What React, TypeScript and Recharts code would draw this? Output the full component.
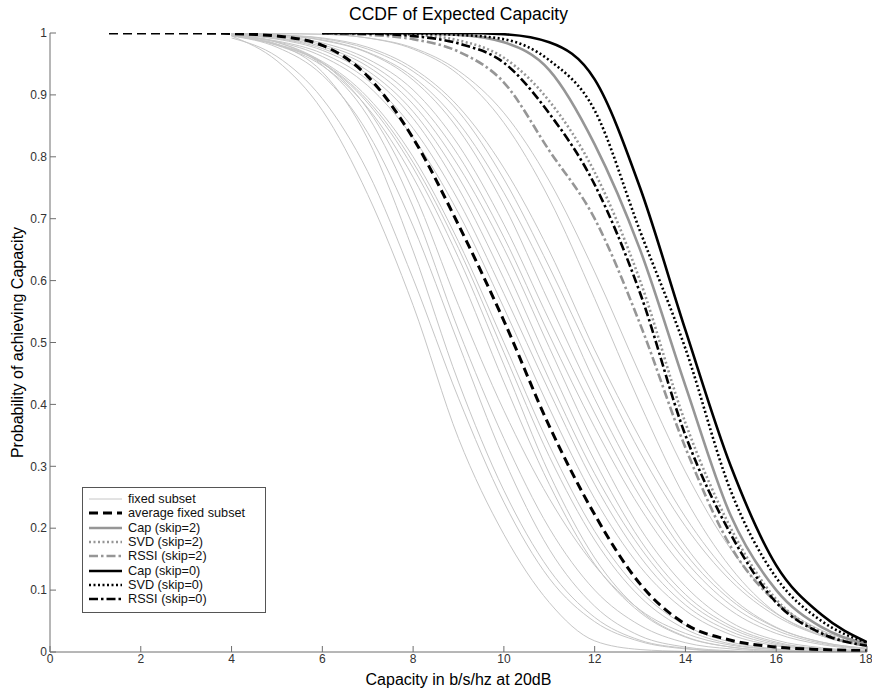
import { LineChart, Line, XAxis, YAxis, Label } from "recharts";

const FONT = "'Liberation Sans', Arial, Helvetica, sans-serif";

// shared x grid (capacity in b/s/hz)
const X_VALUES = [1.3, 2, 3, 4, 5, 6, 7, 8, 9, 10, 11, 12, 13, 14, 15, 16, 17, 18];
const X_TICKS = [0, 2, 4, 6, 8, 10, 12, 14, 16, 18];
const Y_TICKS = [0, 0.1, 0.2, 0.3, 0.4, 0.5, 0.6, 0.7, 0.8, 0.9, 1];

// fixed subset curves, read at x = 4..18
const FIXED_START = 4;
const FIXED_SUBSET = [
  [0.995, 0.955, 0.875, 0.739, 0.56, 0.345, 0.19, 0.08, 0.018, 0.004, 0.001, 0, 0, 0, 0],
  [0.992, 0.962, 0.894, 0.776, 0.603, 0.41, 0.242, 0.119, 0.049, 0.017, 0.005, 0.001, 0, 0, 0],
  [0.996, 0.982, 0.937, 0.829, 0.648, 0.436, 0.261, 0.133, 0.056, 0.019, 0.006, 0.001, 0, 0, 0],
  [0.995, 0.977, 0.932, 0.839, 0.688, 0.498, 0.312, 0.166, 0.074, 0.026, 0.008, 0.002, 0, 0, 0],
  [0.996, 0.985, 0.948, 0.866, 0.719, 0.52, 0.345, 0.2, 0.1, 0.043, 0.015, 0.005, 0.001, 0, 0],
  [0.996, 0.985, 0.952, 0.877, 0.745, 0.56, 0.39, 0.248, 0.14, 0.068, 0.03, 0.011, 0.004, 0.001, 0],
  [0.996, 0.98, 0.947, 0.879, 0.767, 0.614, 0.436, 0.271, 0.142, 0.064, 0.024, 0.008, 0.002, 0, 0],
  [0.996, 0.981, 0.951, 0.887, 0.782, 0.637, 0.464, 0.288, 0.152, 0.067, 0.025, 0.008, 0.002, 0, 0],
  [0.996, 0.981, 0.952, 0.891, 0.791, 0.652, 0.484, 0.316, 0.181, 0.089, 0.037, 0.013, 0.004, 0.001, 0],
  [0.996, 0.982, 0.954, 0.896, 0.8, 0.663, 0.5, 0.334, 0.195, 0.099, 0.043, 0.016, 0.005, 0.001, 0],
  [0.996, 0.986, 0.962, 0.915, 0.831, 0.709, 0.556, 0.394, 0.248, 0.138, 0.067, 0.028, 0.01, 0.003, 0.001],
  [0.996, 0.987, 0.967, 0.924, 0.846, 0.729, 0.579, 0.421, 0.271, 0.154, 0.076, 0.033, 0.012, 0.004, 0.001],
  [0.997, 0.99, 0.972, 0.933, 0.862, 0.749, 0.603, 0.44, 0.288, 0.169, 0.085, 0.038, 0.014, 0.005, 0.001],
  [0.997, 0.991, 0.975, 0.939, 0.873, 0.767, 0.626, 0.464, 0.309, 0.181, 0.093, 0.042, 0.016, 0.005, 0.002],
  [0.998, 0.992, 0.978, 0.946, 0.885, 0.785, 0.652, 0.492, 0.334, 0.2, 0.106, 0.048, 0.019, 0.007, 0.002],
  [0.998, 0.994, 0.981, 0.952, 0.896, 0.802, 0.67, 0.512, 0.363, 0.233, 0.133, 0.067, 0.03, 0.012, 0.004],
  [0.998, 0.995, 0.984, 0.958, 0.908, 0.819, 0.691, 0.536, 0.386, 0.251, 0.147, 0.076, 0.035, 0.014, 0.005],
  [0.999, 0.997, 0.988, 0.968, 0.924, 0.844, 0.722, 0.564, 0.409, 0.271, 0.159, 0.084, 0.039, 0.016, 0.006],
  [0.999, 0.996, 0.989, 0.969, 0.929, 0.855, 0.742, 0.599, 0.436, 0.291, 0.171, 0.089, 0.04, 0.016, 0.006],
  [1, 0.997, 0.991, 0.974, 0.938, 0.873, 0.764, 0.622, 0.468, 0.323, 0.203, 0.115, 0.058, 0.026, 0.01],
  [1, 0.997, 0.992, 0.977, 0.943, 0.881, 0.782, 0.648, 0.488, 0.345, 0.218, 0.123, 0.062, 0.028, 0.011],
  [1, 0.999, 0.998, 0.992, 0.974, 0.933, 0.855, 0.732, 0.571, 0.401, 0.248, 0.136, 0.063, 0.026, 0.009],
  [1, 0.999, 0.998, 0.992, 0.976, 0.939, 0.871, 0.761, 0.614, 0.448, 0.291, 0.166, 0.082, 0.035, 0.013],
];

// average of the fixed subset, x = 1.3..18
const AVG_START = 1.3;
const AVG_FIXED = [1, 1, 1, 0.999, 0.995, 0.98, 0.93, 0.83, 0.69, 0.535, 0.365, 0.222, 0.11, 0.045, 0.019, 0.008, 0.004, 0.002];

// selection schemes, x = 6..18
const SEL_START = 6;
const CAP_SKIP2 = [1, 1, 0.999, 0.997, 0.985, 0.94, 0.82, 0.65, 0.43, 0.22, 0.1, 0.04, 0.013];
const SVD_SKIP2 = [1, 0.999, 0.997, 0.988, 0.96, 0.89, 0.775, 0.6, 0.37, 0.2, 0.085, 0.032, 0.011];
const RSSI_SKIP2 = [0.999, 0.997, 0.99, 0.97, 0.92, 0.81, 0.7, 0.53, 0.33, 0.17, 0.08, 0.03, 0.01];
const CAP_SKIP0 = [1, 1, 1, 1, 0.998, 0.985, 0.925, 0.75, 0.52, 0.3, 0.14, 0.06, 0.016];
const SVD_SKIP0 = [1, 1, 0.999, 0.997, 0.99, 0.956, 0.875, 0.68, 0.49, 0.26, 0.12, 0.05, 0.015];
const RSSI_SKIP0 = [1, 0.999, 0.995, 0.983, 0.952, 0.87, 0.755, 0.58, 0.35, 0.19, 0.08, 0.03, 0.01];

const GRAY = "#969696";
const THIN = "#c6c6c6";

type Style = { key: string; name: string; color: string; width: number; dash?: string };

const STYLES: Style[] = [
  { key: "avg", name: "average fixed subset", color: "#000", width: 3, dash: "9 5" },
  { key: "cap2", name: "Cap (skip=2)", color: GRAY, width: 2.6 },
  { key: "svd2", name: "SVD (skip=2)", color: GRAY, width: 2.6, dash: "2 2.5" },
  { key: "rssi2", name: "RSSI (skip=2)", color: GRAY, width: 2.6, dash: "9 3 2.5 3" },
  { key: "cap0", name: "Cap (skip=0)", color: "#000", width: 2.6 },
  { key: "svd0", name: "SVD (skip=0)", color: "#000", width: 2.6, dash: "2 2.5" },
  { key: "rssi0", name: "RSSI (skip=0)", color: "#000", width: 2.6, dash: "9 3 2.5 3" },
];

const SERIES_VALUES: Record<string, [number[], number]> = {
  avg: [AVG_FIXED, AVG_START],
  cap2: [CAP_SKIP2, SEL_START],
  svd2: [SVD_SKIP2, SEL_START],
  rssi2: [RSSI_SKIP2, SEL_START],
  cap0: [CAP_SKIP0, SEL_START],
  svd0: [SVD_SKIP0, SEL_START],
  rssi0: [RSSI_SKIP0, SEL_START],
};

function valueAt(values: number[], start: number, i: number) {
  const first = X_VALUES.indexOf(start);
  return i >= first ? values[i - first] : null;
}

const data = X_VALUES.map((x, i) => {
  const row: Record<string, number | null> = { x };
  FIXED_SUBSET.forEach((vals, k) => {
    row[`f${k}`] = valueAt(vals, FIXED_START, i);
  });
  Object.entries(SERIES_VALUES).forEach(([key, [vals, start]]) => {
    row[key] = valueAt(vals, start, i);
  });
  return row;
});

const tickStyle = { fontSize: 12, fill: "#333", fontFamily: FONT };

function LegendBox() {
  const items = [{ name: "fixed subset", color: THIN, width: 1, dash: undefined as string | undefined }, ...STYLES];
  return (
    <div
      style={{
        position: "absolute",
        left: 82,
        top: 487,
        width: 184,
        height: 126,
        border: "1px solid #555",
        background: "#fff",
        fontFamily: FONT,
        fontSize: 12.7,
        color: "#111",
        boxSizing: "border-box",
        paddingTop: 4,
      }}
    >
      {items.map((it) => (
        <div key={it.name} style={{ display: "flex", alignItems: "center", height: 14.3 }}>
          <svg width={40} height={10} style={{ marginLeft: 5, flexShrink: 0 }}>
            <line x1={1} y1={5} x2={34} y2={5} stroke={it.color} strokeWidth={it.width} strokeDasharray={it.dash} />
          </svg>
          <span style={{ lineHeight: "14px" }}>{it.name}</span>
        </div>
      ))}
    </div>
  );
}

export default function App() {
  return (
    <div style={{ position: "fixed", left: 0, top: 0, width: 872, height: 691, background: "#fff" }}>
      <div
        style={{
          position: "absolute",
          left: 50,
          width: 817,
          top: 4,
          textAlign: "center",
          fontFamily: FONT,
          fontSize: 17.5,
          color: "#000",
        }}
      >
        CCDF of Expected Capacity
      </div>
      <LineChart width={872} height={691} data={data} margin={{ top: 33, right: 5, bottom: 0, left: 0 }}>
        <XAxis
          dataKey="x"
          type="number"
          domain={[0, 18]}
          ticks={X_TICKS}
          allowDataOverflow
          stroke="#6e6e6e"
          tick={tickStyle}
          tickSize={-6}
          tickMargin={8}
          height={39}
        >
          <Label
            value="Capacity in b/s/hz at 20dB"
            position="insideBottom"
            offset={6}
            style={{ fontSize: 16, fill: "#000", fontFamily: FONT }}
          />
        </XAxis>
        <YAxis
          type="number"
          domain={[0, 1]}
          ticks={Y_TICKS}
          allowDataOverflow
          stroke="#6e6e6e"
          tick={tickStyle}
          tickSize={-6}
          tickMargin={9}
          width={50}
        >
          <Label
            value="Probability of achieving Capacity"
            position="insideLeft"
            angle={-90}
            offset={17}
            style={{ fontSize: 16, fill: "#000", fontFamily: FONT, textAnchor: "middle" }}
          />
        </YAxis>
        {FIXED_SUBSET.map((_, k) => (
          <Line
            key={`f${k}`}
            dataKey={`f${k}`}
            type="monotone"
            stroke={THIN}
            strokeWidth={1}
            dot={false}
            activeDot={false}
            isAnimationActive={false}
          />
        ))}
        {STYLES.map((s) => (
          <Line
            key={s.key}
            dataKey={s.key}
            name={s.name}
            type="monotone"
            stroke={s.color}
            strokeWidth={s.width}
            strokeDasharray={s.dash}
            dot={false}
            activeDot={false}
            isAnimationActive={false}
          />
        ))}
      </LineChart>
      <LegendBox />
    </div>
  );
}
